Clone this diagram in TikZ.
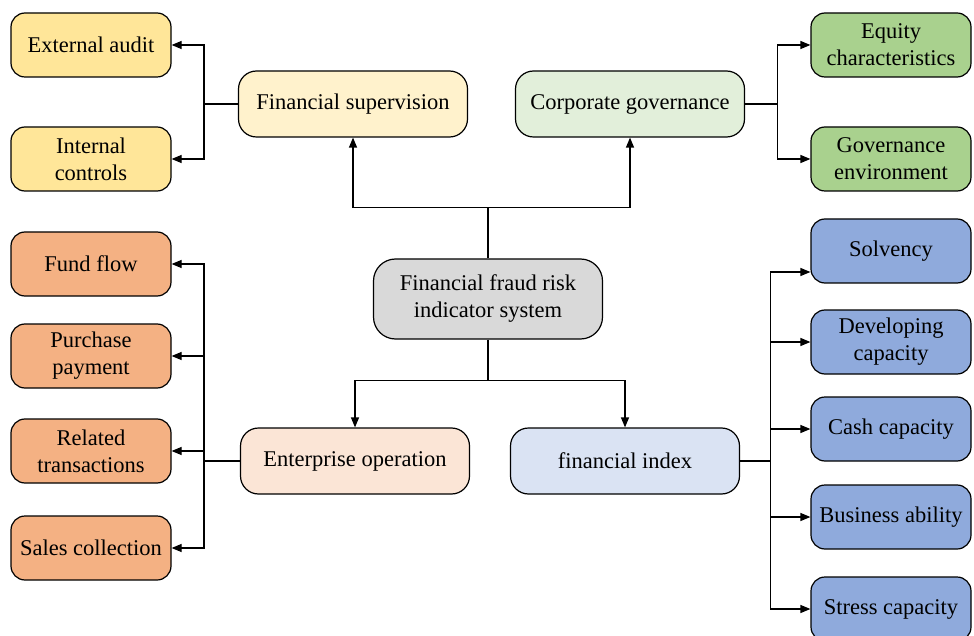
\documentclass[tikz,border=0pt]{standalone}
\usepackage{fontspec}
\setmainfont{Liberation Serif}
\usetikzlibrary{positioning,arrows.meta}
\definecolor{supLight}{HTML}{FFF2CC}
\definecolor{supDark}{HTML}{FFE699}
\definecolor{govLight}{HTML}{E2EFDA}
\definecolor{govDark}{HTML}{A9D18E}
\definecolor{opLight}{HTML}{FBE5D6}
\definecolor{opDark}{HTML}{F4B183}
\definecolor{idxLight}{HTML}{DAE3F3}
\definecolor{idxDark}{HTML}{8FAADC}
\definecolor{sysGray}{HTML}{D9D9D9}

\begin{document}
\begin{tikzpicture}[x=1pt,y=-1pt,
    box/.style={draw,line width=1.2pt,rounded corners=14pt,inner sep=0pt,
        minimum width=160pt,minimum height=64pt,align=center,
        font=\fontsize{22.5}{27}\selectfont},
    mid/.style={box,minimum width=229pt,minimum height=66pt,rounded corners=18pt},
    wire/.style={line width=1.2pt},
    link/.style={wire,-{Triangle[length=10pt,width=8pt]}}]
    \useasboundingbox (0,0) rectangle (974,636);

    % centre
    \node [mid,fill=sysGray,minimum height=80pt,rounded corners=22pt] (sys) at (488,299) {Financial fraud risk\\indicator system};

    % second level
    \node [mid,fill=supLight] (sup) at (353,104) {Financial supervision};
    \node [mid,fill=govLight] (gov) at (630,104) {Corporate governance};
    \node [mid,fill=opLight] (op) at (355,461) {Enterprise operation};
    \node [mid,fill=idxLight] (idx) at (625,461) {financial index};

    % leaves
    \node [box,fill=supDark] (ext) at (91,45) {External audit};
    \node [box,fill=supDark] (int) at (91,159) {Internal\\controls};
    \node [box,fill=govDark] (eq) at (891,45) {Equity\\characteristics};
    \node [box,fill=govDark] (env) at (891,159) {Governance\\environment};
    \node [box,fill=opDark] (fund) at (91,264) {Fund flow};
    \node [box,fill=opDark] (pur) at (91,356) {Purchase\\payment};
    \node [box,fill=opDark] (rel) at (91,451) {Related\\transactions};
    \node [box,fill=opDark] (sal) at (91,548) {Sales collection};
    \node [box,fill=idxDark] (solv) at (891,251) {Solvency};
    \node [box,fill=idxDark] (dev) at (891,342) {Developing\\capacity};
    \node [box,fill=idxDark] (cash) at (891,429) {Cash capacity};
    \node [box,fill=idxDark] (bus) at (891,517) {Business ability};
    \node [box,fill=idxDark] (str) at (891,609) {Stress capacity};

    % trunk
    \draw [wire] (sys.north) -- ++(0,-51) coordinate (top);
    \draw [link] (top) -| (sup.south);
    \draw [link] (top) -| (gov.south);
    \draw [wire] (sys.south) -- ++(0,41) coordinate (bot);
    \draw [link] (bot) -| (op.north);
    \draw [link] (bot) -| (idx.north);

    % branches
    \draw [wire] (sup.west) -- ++(-34,0) coordinate (supJ);
    \draw [link] (supJ) |- (ext.east);
    \draw [link] (supJ) |- (int.east);

    \draw [wire] (gov.east) -- ++(32,0) coordinate (govJ);
    \draw [link] (govJ) |- (eq.west);
    \draw [link] (govJ) |- (env.west);

    \draw [wire] (op.west) -- ++(-36,0) coordinate (opJ);
    \draw [link] (opJ) |- (fund.east);
    \draw [link] (opJ) |- (pur.east);
    \draw [link] (opJ) |- (rel.east);
    \draw [link] (opJ) |- (sal.east);

    \draw [wire] (idx.east) -- ++(30,0) coordinate (idxJ);
    \draw [link] (idxJ) |- ([yshift=-21pt]solv.west);
    \draw [link] (idxJ) |- (dev.west);
    \draw [link] (idxJ) |- (cash.west);
    \draw [link] (idxJ) |- (bus.west);
    \draw [link] (idxJ) |- (str.west);
\end{tikzpicture}
\end{document}
